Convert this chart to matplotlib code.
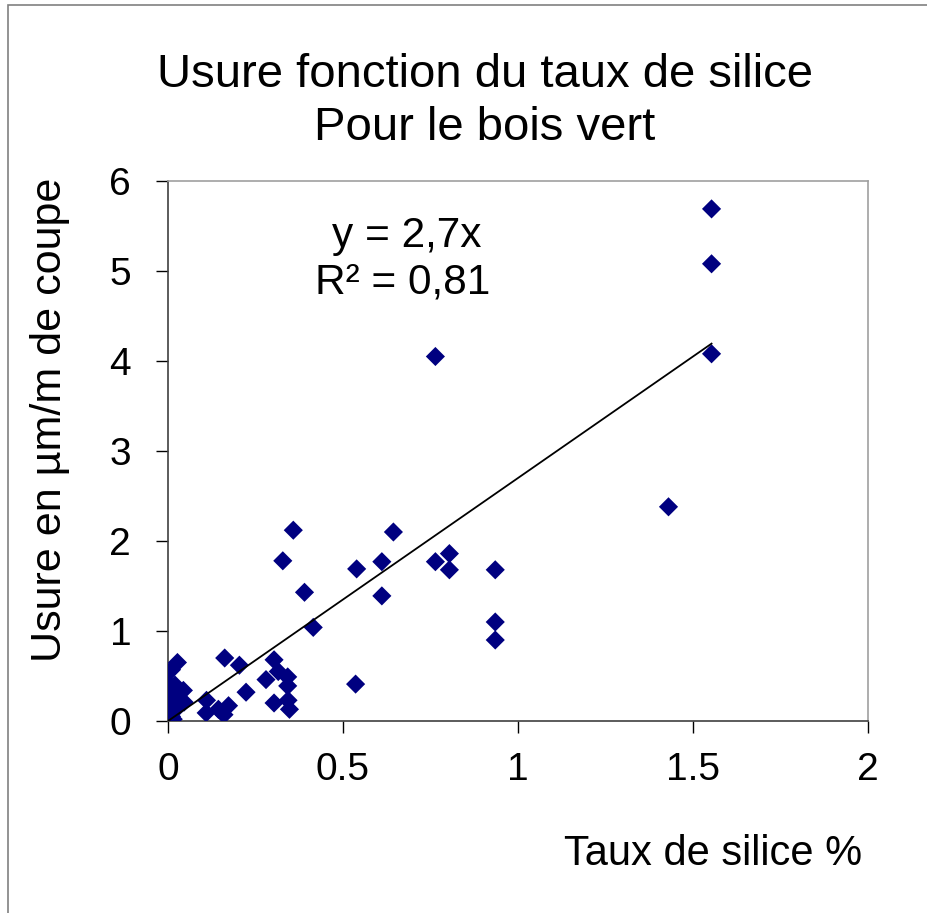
import matplotlib
matplotlib.use("Agg")
import matplotlib.pyplot as plt
from matplotlib.patches import Rectangle
import numpy as np

plt.rcParams['font.family'] = ['Liberation Sans', 'DejaVu Sans']

# Silica content (%) and wear (µm per metre of cut), green wood
silice = [
    0.358, 0.328, 0.539, 0.390, 0.415, 0.536,
    0.027, 0.010, 0.162, 0.204, 0.303, 0.315, 0.342, 0.280, 0.342,
    0.223, 0.110, 0.343, 0.303, 0.347, 0.173, 0.144, 0.109, 0.160,
    0.044, 0.046,
    0.000, 0.005, 0.000, 0.010, 0.000, 0.005, 0.000, 0.010, 0.005,
    0.020, 0.020, 0.030, 0.020, 0.015,
    0.644, 0.611, 0.764, 0.804, 0.804, 0.935, 0.611, 0.935, 0.935,
    0.764, 1.553, 1.430, 1.553, 1.553,
]
usure = [
    2.12, 1.78, 1.69, 1.43, 1.04, 0.41,
    0.65, 0.57, 0.70, 0.62, 0.68, 0.55, 0.49, 0.46, 0.39,
    0.32, 0.23, 0.23, 0.20, 0.13, 0.17, 0.13, 0.09, 0.07,
    0.34, 0.21,
    0.42, 0.35, 0.30, 0.25, 0.20, 0.15, 0.10, 0.05, 0.00,
    0.40, 0.30, 0.20, 0.12, 0.02,
    2.10, 1.77, 1.77, 1.86, 1.68, 1.68, 1.39, 1.10, 0.90,
    4.05, 4.08, 2.38, 5.69, 5.08,
]

pente = 2.7
r2 = 0.81
xticks = [0, 0.5, 1, 1.5, 2]
xticklabels = ['0', '0.5', '1', '1.5', '2']
yticks = [0, 1, 2, 3, 4, 5, 6]

W, H = 928, 913
fig = plt.figure(figsize=(W / 100, H / 100), dpi=100)
fig.patch.set_facecolor('white')


def fx(px):
    return px / W


def fy(py):
    return 1 - py / H


# chart-area frame
fig.add_artist(Rectangle((fx(8), -0.05), 1.2, fy(5) + 0.05,
                         transform=fig.transFigure, fill=False,
                         edgecolor='#808080', linewidth=1.2))

ax = fig.add_axes([fx(168), fy(721), 700 / W, 540 / H])
ax.set_xlim(0, 2)
ax.set_ylim(0, 6)

ax.scatter(silice, usure, marker='D', s=95, color='#000080',
           edgecolors='none', zorder=3)

xmax = max(silice)
xs = np.array([0, xmax])
ax.plot(xs, pente * xs, color='black', linewidth=1.3, zorder=4)

fig.text(fx(407), fy(247), f"y = {pente:.1f}x".replace('.', ','),
         ha='center', va='baseline', fontsize=30.5)
fig.text(fx(403), fy(293), f"R² = {r2:.2f}".replace('.', ','),
         ha='center', va='baseline', fontsize=30.5)

ax.set_xticks(xticks)
ax.set_xticklabels(xticklabels)
ax.set_yticks(yticks)
ax.tick_params(axis='both', labelsize=28, direction='out', length=8.5,
               width=1, color='black')
ax.tick_params(axis='x', pad=14)
ax.tick_params(axis='y', pad=18)

for side in ('top', 'right'):
    ax.spines[side].set_color('#a0a0a0')
    ax.spines[side].set_linewidth(1.2)
for side in ('left', 'bottom'):
    ax.spines[side].set_color('#404040')
    ax.spines[side].set_linewidth(1.2)

fig.text(fx(50), fy(420), "Usure en µm/m de coupe", rotation=90,
         ha='center', va='center', fontsize=31)
fig.text(fx(862), fy(865), "Taux de silice %", ha='right',
         va='baseline', fontsize=30)

fig.text(fx(485), fy(87), "Usure fonction du taux de silice",
         ha='center', va='baseline', fontsize=34)
fig.text(fx(485), fy(140), "Pour le bois vert",
         ha='center', va='baseline', fontsize=34)

fig.savefig("out.png", dpi=100, facecolor='white')
